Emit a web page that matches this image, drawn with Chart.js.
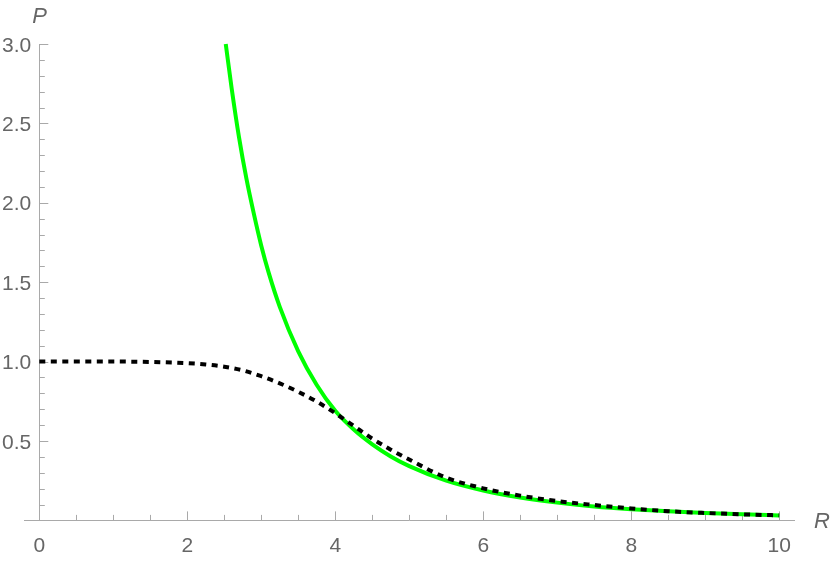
<!DOCTYPE html>
<html>
<head>
<meta charset="utf-8">
<script src="https://cdn.jsdelivr.net/npm/chart.js@4/dist/chart.umd.min.js"></script>
<style>
  html, body { margin: 0; padding: 0; background: #fff; }
  #wrap { width: 834px; height: 561px; }
</style>
</head>
<body>
<div id="wrap"><canvas id="plot" width="834" height="561"></canvas></div>
<script>
// values
const blackR = [0, 0.5, 1, 1.5, 2, 2.25, 2.5, 2.75, 3, 3.25, 3.5, 3.75, 4, 4.25, 4.5, 4.75, 5, 5.5, 6, 6.5, 7, 7.5, 8, 8.5, 9, 9.5, 10];
const blackP = [1.0, 1.0, 1.0, 0.998, 0.99, 0.982, 0.968, 0.945, 0.908, 0.863, 0.81, 0.748, 0.675, 0.595, 0.515, 0.445, 0.383, 0.269, 0.202, 0.156, 0.122, 0.097, 0.075, 0.058, 0.047, 0.038, 0.032];

const greenR = [2.52, 2.6, 2.7, 2.8, 2.9, 3.0, 3.1, 3.25, 3.5, 3.75, 4.0, 4.25, 4.5, 4.75, 5.0, 5.5, 6.0, 6.5, 7.0, 7.5, 8.0, 8.5, 9.0, 9.5, 10.0];
const greenP = [3.0, 2.72, 2.41, 2.15, 1.93, 1.73, 1.56, 1.345, 1.065, 0.853, 0.69, 0.572, 0.479, 0.403, 0.342, 0.250, 0.188, 0.144, 0.112, 0.088, 0.0705, 0.057, 0.0463, 0.038, 0.031];

const xMajorTicks = [0, 2, 4, 6, 8, 10];
const yMajorTicks = [0.5, 1.0, 1.5, 2.0, 2.5, 3.0];
const xLabel = 'R';
const yLabel = 'P';

const AXIS = '#a9a9a9';
const TEXT = '#666666';
const FONT = '"Liberation Sans", Arial, sans-serif';

// minor tick positions (every 0.5 on R, every 0.1 on P)
const xMinorTicks = [];
for (let i = 0; i <= 20; i++) xMinorTicks.push(i / 2);
const yMinorTicks = [];
for (let i = 1; i <= 30; i++) yMinorTicks.push(i / 10);

const toPoints = (xs, ys) => xs.map((v, i) => ({ x: v, y: ys[i] }));

// inward tick marks, tick labels and axis letters (axes cross at 0,0)
const axisDecor = {
  id: 'axisDecor',
  beforeDatasetsDraw(chart) {
    const { ctx, scales: { x, y } } = chart;
    const x0 = x.getPixelForValue(0);
    const y0 = y.getPixelForValue(0);
    ctx.save();
    ctx.strokeStyle = AXIS;
    ctx.lineWidth = 1;
    ctx.beginPath();
    x.ticks.forEach(t => {
      const px = Math.round(x.getPixelForValue(t.value)) + 0.5;
      const len = xMajorTicks.includes(t.value) ? 9 : 5.5;
      ctx.moveTo(px, y0);
      ctx.lineTo(px, y0 - len);
    });
    y.ticks.forEach(t => {
      const py = Math.round(y.getPixelForValue(t.value)) + 0.5;
      const len = yMajorTicks.includes(t.value) ? 9 : 5.5;
      ctx.moveTo(x0, py);
      ctx.lineTo(x0 + len, py);
    });
    ctx.stroke();

    ctx.fillStyle = TEXT;
    ctx.font = '21px ' + FONT;
    ctx.textBaseline = 'alphabetic';
    ctx.textAlign = 'center';
    xMajorTicks.forEach(v => ctx.fillText(String(v), x.getPixelForValue(v), y0 + 31.5));
    ctx.textAlign = 'right';
    yMajorTicks.forEach(v => ctx.fillText(v.toFixed(1), x0 - 8, y.getPixelForValue(v) + 7.5));

    ctx.font = 'italic 22px ' + FONT;
    ctx.textAlign = 'left';
    ctx.fillText(yLabel, x0 - 7, y.top - 21);
    ctx.fillText(xLabel, x.right + 20, y0 + 8);
    ctx.restore();
  }
};

new Chart(document.getElementById('plot'), {
  type: 'line',
  data: {
    datasets: [
      {
        label: 'dotted',
        data: toPoints(blackR, blackP),
        borderColor: '#000000',
        borderWidth: 4,
        borderDash: [6, 5.5],
        borderCapStyle: 'butt',
        pointRadius: 0,
        cubicInterpolationMode: 'monotone',
        fill: false,
        clip: false,
        order: 0
      },
      {
        label: 'green',
        data: toPoints(greenR, greenP),
        borderColor: '#00ff00',
        borderWidth: 4,
        pointRadius: 0,
        cubicInterpolationMode: 'monotone',
        fill: false,
        clip: false,
        order: 1
      }
    ]
  },
  options: {
    responsive: false,
    animation: false,
    events: [],
    layout: { padding: { left: 24.5, right: 40, top: 44, bottom: 40.6 } },
    plugins: { legend: { display: false }, tooltip: { enabled: false } },
    scales: {
      x: {
        type: 'linear',
        position: { y: 0 },
        min: -0.2,
        max: 10.2,
        afterBuildTicks: s => { s.ticks = xMinorTicks.map(v => ({ value: v })); },
        grid: { display: false, drawTicks: false },
        border: { display: true, color: AXIS, width: 1 },
        ticks: { display: false, autoSkip: false }
      },
      y: {
        type: 'linear',
        position: { x: 0 },
        min: 0,
        max: 3,
        afterBuildTicks: s => { s.ticks = yMinorTicks.map(v => ({ value: v })); },
        grid: { display: false, drawTicks: false },
        border: { display: true, color: AXIS, width: 1 },
        ticks: { display: false, autoSkip: false }
      }
    }
  },
  plugins: [axisDecor]
});
</script>
</body>
</html>
